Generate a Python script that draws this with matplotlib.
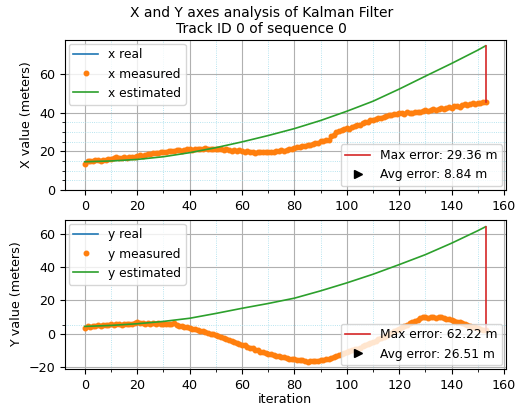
import matplotlib
matplotlib.use('Agg')
import matplotlib.pyplot as plt
from matplotlib.lines import Line2D

# measured positions, one per iteration (0..153)
x_measured = [
    13.6, 14.9, 15.2, 14.8, 15.3, 15.4, 15.1, 15.6, 15.5, 15.9,
    16.0, 16.3, 17.2, 16.4, 16.6, 16.9, 16.5, 17.0, 17.3, 17.1,
    17.6, 17.9, 17.7, 18.2, 18.4, 18.5, 18.9, 19.1, 19.0, 19.5,
    19.8, 19.6, 20.1, 20.3, 20.0, 20.5, 20.6, 20.4, 20.8, 21.1,
    21.0, 20.7, 21.2, 21.4, 21.0, 21.3, 21.5, 21.1, 21.3, 21.2,
    21.4, 21.0, 21.2, 20.6, 21.0, 20.8, 20.4, 20.7, 20.2, 20.5,
    20.1, 19.8, 20.3, 19.6, 19.9, 19.2, 19.5, 19.8, 19.4, 19.7,
    19.5, 19.9, 19.6, 20.0, 20.3, 20.5, 20.4, 20.9, 21.2, 21.4,
    21.6, 22.0, 22.1, 22.6, 22.8, 23.1, 23.4, 23.6, 24.2, 24.5,
    25.3, 25.6, 26.1, 26.0, 27.8, 28.5, 29.9, 30.7, 31.3, 31.8,
    32.0, 31.6, 32.4, 33.1, 33.5, 33.9, 34.6, 35.0, 35.4, 36.0,
    36.3, 36.7, 37.2, 37.5, 37.9, 38.3, 38.6, 38.9, 39.3, 39.6,
    39.8, 40.1, 39.6, 40.2, 40.0, 39.7, 40.3, 40.6, 40.2, 41.0,
    41.2, 40.8, 41.4, 41.7, 41.5, 42.0, 42.3, 41.9, 42.6, 43.0,
    42.7, 43.3, 43.6, 43.2, 44.0, 44.4, 43.9, 44.6, 45.1, 44.8,
    45.3, 44.9, 45.6, 45.4,
]
y_measured = [
    3.6, 4.5, 4.2, 4.8, 4.6, 5.0, 4.7, 5.3, 5.1, 5.4,
    5.6, 5.2, 5.7, 5.9, 5.5, 6.0, 5.8, 6.1, 5.7, 6.3,
    7.0, 6.2, 6.5, 6.0, 6.4, 6.1, 6.3, 5.9, 6.2, 6.0,
    5.8, 6.1, 5.7, 5.9, 6.3, 5.2, 4.9, 4.6, 4.1, 3.8,
    3.4, 3.0, 2.7, 2.5, 1.9, 1.6, 1.0, 0.6, 0.1, -0.4,
    -1.0, -1.4, -1.9, -2.5, -3.0, -3.6, -4.1, -4.8, -5.3, -6.0,
    -6.6, -7.0, -7.7, -8.3, -8.8, -9.5, -10.1, -10.8, -11.3, -11.7,
    -12.0, -12.4, -12.9, -13.2, -13.6, -13.9, -14.3, -14.6, -15.0, -15.3,
    -15.5, -15.8, -15.6, -16.1, -16.6, -17.2, -16.4, -16.7, -16.2, -16.5,
    -15.8, -16.1, -15.4, -15.0, -14.5, -13.9, -13.2, -12.8, -12.2, -11.7,
    -11.2, -10.6, -10.1, -9.4, -9.0, -8.3, -7.6, -7.0, -6.2, -5.6,
    -4.9, -4.2, -3.4, -2.7, -1.9, -1.1, -0.3, 0.6, 1.4, 2.2,
    3.0, 3.8, 4.6, 5.3, 6.2, 6.9, 7.6, 8.4, 9.2, 9.8,
    10.1, 9.7, 10.3, 10.0, 9.6, 10.2, 9.8, 9.4, 9.0, 8.7,
    8.3, 7.9, 7.3, 7.0, 6.6, 5.9, 5.4, 4.9, 4.3, 3.8,
    3.3, 2.9, 2.5, 2.2,
]
iterations = list(range(len(x_measured)))

# real track (hidden under the measured dots)
x_real = x_measured
y_real = y_measured

# kalman estimate, read at coarser iterations
est_iter = [0, 10, 20, 30, 40, 50, 60, 70, 80, 90, 100, 110, 120, 130, 140, 150, 153]
x_estimated = [14.6, 15.0, 15.8, 17.2, 19.3, 21.9, 24.9, 28.2, 31.8, 36.0,
               40.8, 46.0, 52.3, 59.0, 65.6, 72.5, 74.76]
y_estimated = [4.4, 5.0, 6.0, 7.4, 9.3, 12.2, 15.3, 18.2, 21.4, 25.8,
               30.6, 35.8, 41.6, 47.6, 54.5, 62.0, 64.42]

x_max_err, x_avg_err = 29.36, 8.84
y_max_err, y_avg_err = 62.22, 26.51

plt.rcParams['font.size'] = 9.2
plt.rcParams['lines.linewidth'] = 1.2

fig = plt.figure(figsize=(5.23, 4.11), dpi=100)
ax1 = fig.add_axes([0.124, 0.538, 0.843, 0.365])
ax2 = fig.add_axes([0.124, 0.102, 0.843, 0.363])
fig.suptitle('X and Y axes analysis of Kalman Filter\nTrack ID 0 of sequence 0',
             fontsize=10, y=0.985)


def panel(ax, name, real, meas, est, max_err, avg_err, minor_y):
    ax.plot(iterations, real, color='tab:blue', label=name + ' real')
    ax.plot(iterations, meas, '.', color='tab:orange', markersize=6.5,
            label=name + ' measured')
    ax.plot(est_iter, est, color='tab:green', label=name + ' estimated')
    ax.plot([iterations[-1], iterations[-1]], [meas[-1], est[-1]],
            color='tab:red')
    leg1 = ax.legend(loc='upper left', fontsize=8.8, borderaxespad=0.3)
    ax.add_artist(leg1)
    handles = [Line2D([], [], color='tab:red'),
               Line2D([], [], color='black', marker='>', linestyle='None')]
    ax.legend(handles, ['Max error: %.2f m' % max_err,
                        'Avg error: %.2f m' % avg_err],
              loc='lower right', fontsize=8.8, borderaxespad=0.3)
    ax.set_xticks(range(10, 160, 20), minor=True)
    ax.set_yticks(minor_y, minor=True)
    ax.grid(which='major', color='#b0b0b0', linestyle='-', linewidth=0.8)
    ax.grid(which='minor', color='#a0dceb', linestyle=':', linewidth=0.6)
    ax.set_ylabel(name.upper() + ' value (meters)')


panel(ax1, 'x', x_real, x_measured, x_estimated, x_max_err, x_avg_err,
      [5, 10, 15, 25, 30, 35])
ax1.set_ylim(bottom=0)
panel(ax2, 'y', y_real, y_measured, y_estimated, y_max_err, y_avg_err, [5])
ax2.set_xlabel('iteration', labelpad=1)

fig.savefig('out.png', dpi=100)
